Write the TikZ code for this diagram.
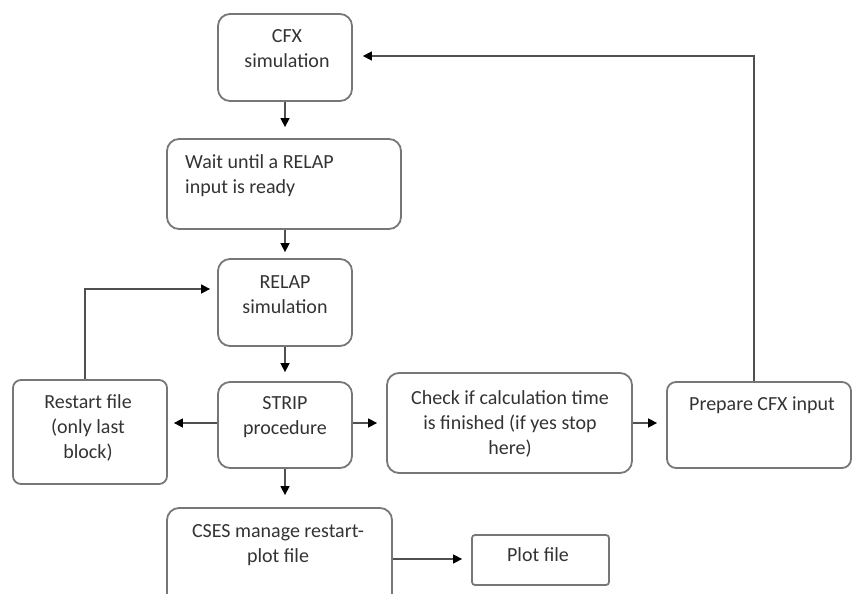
\documentclass[tikz,border=0pt]{standalone}
\usepackage{fontspec}
\setmainfont{Carlito}
\usetikzlibrary{arrows.meta}
\definecolor{boxline}{HTML}{777777}
\definecolor{conline}{HTML}{505050}
\definecolor{txtcol}{HTML}{333333}
\begin{document}
\begin{tikzpicture}[x=1pt,y=-1pt,
  box/.style={draw=boxline, line width=1.8pt, rounded corners=12pt, inner sep=0pt},
  sbox/.style={draw=boxline, line width=1.8pt, rounded corners=3pt, inner sep=0pt},
  txt/.style={text=txtcol, font=\fontsize{20}{25}\selectfont, align=center, inner sep=0pt},
  arr/.style={draw=conline, line width=1.5pt, -{Triangle[length=9pt,width=9pt,fill=black,color=black]}}
]
\useasboundingbox (0,0) rectangle (852,594);
% boxes
\node[box, minimum width=134pt, minimum height=87pt] (cfx) at (285,57.5) {};
\node[box, minimum width=234pt, minimum height=90pt] (wait) at (284,184) {};
\node[box, minimum width=134pt, minimum height=87pt] (relap) at (285,302.5) {};
\node[box, minimum width=134pt, minimum height=86pt] (strip) at (285,425) {};
\node[box, rounded corners=8pt, minimum width=154pt, minimum height=104pt] (restart) at (90,432) {};
\node[box, minimum width=245pt, minimum height=100pt] (check) at (509.5,423) {};
\node[box, rounded corners=9pt, minimum width=184pt, minimum height=86pt] (prep) at (759,425) {};
\node[box, minimum width=225pt, minimum height=100pt] (cses) at (279.5,558) {};
\node[sbox, minimum width=137pt, minimum height=50pt] (plot) at (540.5,560) {};
% texts
\node[txt] (tcfx) at (287,49) {CFX\\simulation};
\node[txt, anchor=west, align=left] (twait) at (185,176) {Wait until a RELAP\\input is ready};
\node[txt] (trelap) at (285,295) {RELAP\\simulation};
\node[txt] (tstrip) at (285,417.5) {STRIP\\procedure};
\node[txt] (trestart) at (88,428) {Restart file\\(only last\\block)};
\node[txt] (tcheck) at (510,424) {Check if calculation time\\is finished (if yes stop\\here)};
\node[txt] (tprep) at (762,405) {Prepare CFX input};
\node[txt] (tcses) at (278,545.5) {CSES manage restart-\\plot file};
\node[txt] (tplot) at (538,555) {Plot file};
% connectors
\draw[arr, shorten >=11pt] (cfx.south) -- (cfx.south |- wait.north);
\draw[arr, shorten >=6pt] (relap.north |- wait.south) -- (relap.north);
\draw[arr, shorten >=9pt] (relap.south) -- (strip.north);
\draw[arr, shorten >=12pt] (strip.south) -- (strip.south |- cses.north);
\draw[arr, shorten >=6pt] (strip.west |- 0,423) -- (restart.east |- 0,423);
\draw[arr, shorten >=9pt] (strip.east |- 0,423) -- (check.west |- 0,423);
\draw[arr, shorten >=9pt] (check.east |- 0,423) -- (prep.west |- 0,423);
\draw[arr, shorten >=9pt] (cses.east |- 0,559) -- (plot.west |- 0,559);
\coordinate (l1) at (85,289);
\draw[arr, shorten >=7pt] (restart.north -| l1) -- (l1) -- (relap.west |- l1);
\coordinate (l2) at (754,56);
\draw[arr, shorten >=10pt] (prep.north -| l2) -- (l2) -- (cfx.east |- l2);
\end{tikzpicture}
\end{document}
